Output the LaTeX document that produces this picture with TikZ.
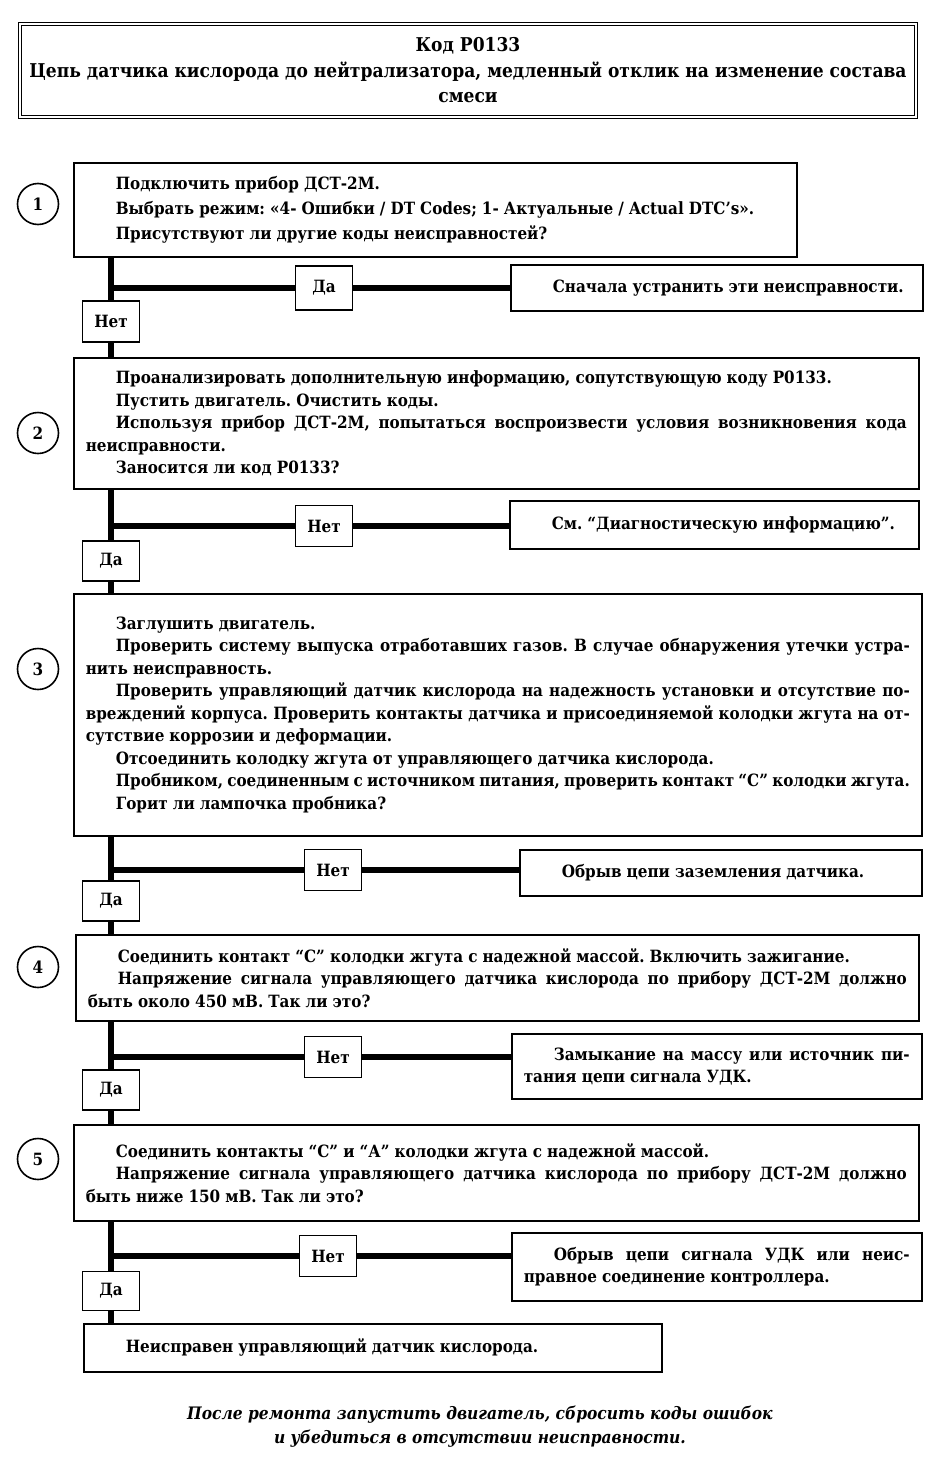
\documentclass[tikz,border=0pt]{standalone}
\usepackage{fontspec}
\setmainfont{DejaVu Serif Condensed}
\usetikzlibrary{positioning}

\newcommand{\bodyfont}{\fontsize{16.9}{22.5}\selectfont\bfseries\frenchspacing\spaceskip=0.3em plus 0.4em minus 0.15em}

\begin{document}
\begin{tikzpicture}[x=1pt,y=-1pt,
  stepbox/.style={draw,line width=1.6pt,fill=white,anchor=north west,inner xsep=12pt,inner ysep=0pt,
    align=justify,font=\bodyfont,execute at begin node={\setlength{\parindent}{30pt}\indent}},
  answer/.style={draw,line width=1.6pt,fill=white,minimum width=57pt,minimum height=41pt,inner sep=0pt,font=\bodyfont},
  num/.style={circle,draw,line width=1.6pt,minimum size=41pt,inner sep=0pt,font=\bodyfont},
  trunk/.style={line width=6pt}]
\useasboundingbox (0,0) rectangle (938,1467);
%
\node[draw,double,double distance=2.4pt,line width=1.2pt,minimum width=896pt,minimum height=93pt,
  align=center,font=\fontsize{19}{25.5}\selectfont\bfseries] (title) at (468,70.5)
  {Код Р0133\\Цепь датчика кислорода до нейтрализатора, медленный отклик на изменение состава\\смеси};
%
% steps
\node[stepbox,text width=699pt,minimum height=94pt,font=\bodyfont\setlength{\baselineskip}{25pt}] (s1) at (73,162)
  {Подключить прибор ДСТ-2М.\par Выбрать режим: «4- Ошибки / DT Codes; 1- Актуальные / Actual DTC's».\par
   Присутствуют ли другие коды неисправностей?};
\node[stepbox,text width=821pt,minimum height=131pt] (s2) at (73,357)
  {Проанализировать дополнительную информацию, сопутствующую коду Р0133.\par
   Пустить двигатель. Очистить коды.\par
   Используя прибор ДСТ-2М, попытаться воспроизвести условия возникновения кода\linebreak неисправности.\par
   Заносится ли код Р0133?};
\node[stepbox,text width=824pt,minimum height=242pt] (s3) at (73,593)
  {Заглушить двигатель.\par
   Проверить систему выпуска отработавших газов. В случае обнаружения утечки устра-\linebreak нить неисправность.\par
   Проверить управляющий датчик кислорода на надежность установки и отсутствие по-\linebreak вреждений корпуса.
   Проверить контакты датчика и присоединяемой колодки жгута на от-\linebreak сутствие коррозии и деформации.\par
   Отсоединить колодку жгута от управляющего датчика кислорода.\par
   Пробником, соединенным с источником питания, проверить контакт “С” колодки жгута.\par
   Горит ли лампочка пробника?};
\node[stepbox,text width=819pt,minimum height=86pt] (s4) at (75,934)
  {Соединить контакт “С” колодки жгута с надежной массой. Включить зажигание.\par
   Напряжение сигнала управляющего датчика кислорода по прибору ДСТ-2М должно\linebreak быть около 450 мВ. Так ли это?};
\node[stepbox,text width=821pt,minimum height=96pt] (s5) at (73,1124)
  {Соединить контакты “С” и “А” колодки жгута с надежной массой.\par
   Напряжение сигнала управляющего датчика кислорода по прибору ДСТ-2М должно\linebreak быть ниже 150 мВ. Так ли это?};
\node[stepbox,text width=554pt,minimum height=48pt] (fin) at (83,1323)
  {Неисправен управляющий датчик кислорода.};
%
% numbers
\node[num] (c1) at (38,204) {1};
\node[num] (c2) at (38,433) {2};
\node[num] (c3) at (38,669) {3};
\node[num] (c4) at (38,967) {4};
\node[num] (c5) at (38,1159) {5};
%
% results
\node[stepbox,text width=388pt,minimum height=46pt] (r1) at (510,264) {Сначала устранить эти неисправности.};
\node[stepbox,text width=385pt,minimum height=48pt] (r2) at (509,500) {См. “Диагностическую информацию”.};
\node[stepbox,text width=378pt,minimum height=46pt] (r3) at (519,849) {Обрыв цепи заземления датчика.};
\node[stepbox,text width=386pt,minimum height=65pt] (r4) at (511,1033)
  {Замыкание на массу или источник пи-\linebreak тания цепи сигнала УДК.};
\node[stepbox,text width=386pt,minimum height=68pt] (r5) at (511,1232)
  {Обрыв цепи сигнала УДК или неис-\linebreak правное соединение контроллера.};
%
% answers
\node[answer,minimum height=44pt] (side1) at (324,288) {Да};
\node[answer] (down1) at (111,321.5) {Нет};
\node[answer] (side2) at (324,526) {Нет};
\node[answer,minimum height=40pt] (down2) at (111,561) {Да};
\node[answer] (side3) at (333,870) {Нет};
\node[answer,minimum height=40pt] (down3) at (111,901) {Да};
\node[answer] (side4) at (333,1057) {Нет};
\node[answer,minimum height=40pt] (down4) at (111,1090) {Да};
\node[answer] (side5) at (328,1256) {Нет};
\node[answer,minimum height=39pt] (down5) at (111,1291) {Да};
%
% trunk and branches
\draw[trunk] (s1.south -| down1) -- (down1.north);
\draw[trunk] (down1.south) -- (s2.north -| down1);
\draw[trunk] (s2.south -| down2) -- (down2.north);
\draw[trunk] (down2.south) -- (s3.north -| down2);
\draw[trunk] (s3.south -| down3) -- (down3.north);
\draw[trunk] (down3.south) -- (s4.north -| down3);
\draw[trunk] (s4.south -| down4) -- (down4.north);
\draw[trunk] (down4.south) -- (s5.north -| down4);
\draw[trunk] (s5.south -| down5) -- (down5.north);
\draw[trunk] (down5.south) -- (fin.north -| down5);
\foreach \i in {1,...,5}{
  \draw[trunk] (side\i -| down\i) -- (side\i.west);
  \draw[trunk] (side\i.east) -- (side\i.east -| r\i.west);
}
%
\node[font=\fontsize{17.2}{24}\selectfont\bfseries\itshape,align=center] (note) at (480,1427)
  {После ремонта запустить двигатель, сбросить коды ошибок\\и убедиться в отсутствии неисправности.};
\end{tikzpicture}
\end{document}
